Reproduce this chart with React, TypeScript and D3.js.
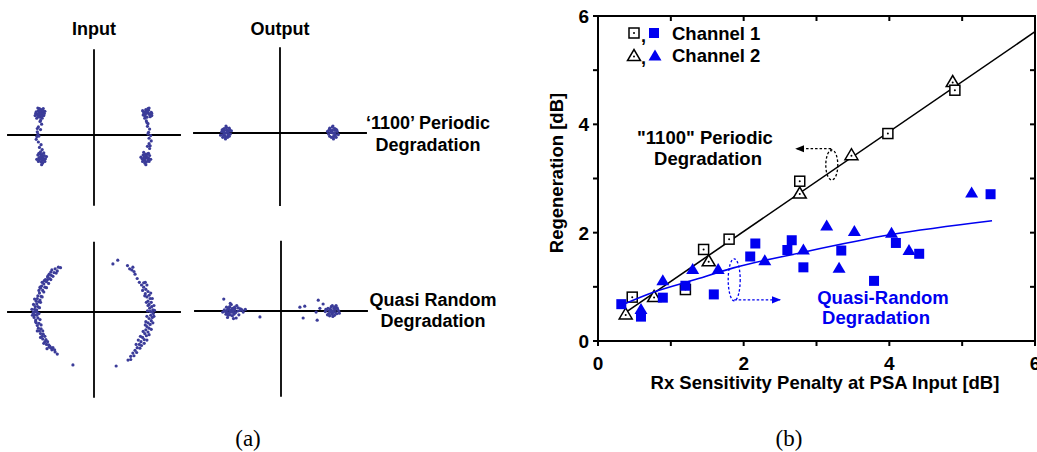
import React from "react";
import * as d3 from "d3";

// ---------- Panel (b) data ----------
const periodicCh1X = [0.47, 1.2, 1.45, 1.8, 2.77, 3.98, 4.9];
const periodicCh1Y = [0.81, 0.95, 1.69, 1.88, 2.95, 3.83, 4.63];
const periodicCh2X = [0.38, 0.77, 1.52, 2.77, 3.48, 4.87];
const periodicCh2Y = [0.51, 0.83, 1.49, 2.74, 3.45, 4.8];
const randomCh1X = [0.32, 0.59, 0.89, 1.2, 1.59, 2.09, 2.16, 2.6, 2.66, 2.82, 3.34, 3.79, 4.09, 4.41, 5.39];
const randomCh1Y = [0.68, 0.45, 0.8, 1.02, 0.86, 1.56, 1.8, 1.68, 1.86, 1.36, 1.67, 1.11, 1.81, 1.61, 2.71];
const randomCh2X = [0.59, 0.89, 1.3, 1.65, 2.29, 2.82, 3.14, 3.31, 3.52, 4.03, 4.27, 5.13];
const randomCh2Y = [0.6, 1.13, 1.34, 1.34, 1.5, 1.7, 2.14, 1.36, 2.04, 2.01, 1.69, 2.75];
const periodicFitX = [0.37, 6.0];
const periodicFitY = [0.52, 5.71];
const randomFitX = [0.32, 0.76, 1.3, 1.86, 2.82, 4.01, 5.41];
const randomFitY = [0.66, 0.9, 1.12, 1.35, 1.64, 1.96, 2.22];
const xTicks = [0, 1, 2, 3, 4, 5, 6];
const yTicks = [0, 1, 2, 3, 4, 5, 6];
const xTickLabels = ["0", "", "2", "", "4", "", "6"];
const yTickLabels = ["0", "", "2", "", "4", "", "6"];
const legendLabels = ["Channel 1", "Channel 2"];

// ---------- Panel (a) constellation data (I, Q) ----------
const periodicInputLeft: [number, number][] = [
  [-1.0, 0.4], [-0.95, 0.42], [-1.05, 0.38], [-0.98, 0.47], [-1.03, 0.45], [-0.93, 0.36], [-1.07, 0.43], [-1.0, 0.33],
  [-0.96, 0.31], [-1.04, 0.5], [-1.09, 0.36], [-0.91, 0.44], [-1.02, 0.41], [-0.97, 0.38], [-1.06, 0.31], [-0.94, 0.49],
  [-0.99, 0.44], [-1.01, 0.36], [-1.0, 0.45], [-0.96, 0.35], [-1.04, 0.34], [-1.08, 0.4], [-0.92, 0.4], [-1.01, 0.49],
  [-0.98, 0.4], [-1.03, 0.39], [-0.95, 0.45],
  [-1.0, 0.25], [-0.97, 0.2], [-1.03, 0.15], [-0.99, 0.1], [-1.05, 0.06], [-1.02, -0.02], [-1.07, -0.08], [-1.03, -0.13],
  [-0.98, -0.18], [-1.01, -0.23], [-0.96, -0.27], [-1.04, 0.02], [-1.06, -0.03], [-0.99, 0.27], [-1.05, 0.12],
  [-0.97, -0.4], [-0.92, -0.38], [-1.02, -0.42], [-0.95, -0.47], [-1.0, -0.35], [-0.9, -0.44], [-1.04, -0.37],
  [-0.98, -0.5], [-0.93, -0.33], [-1.06, -0.45], [-0.88, -0.4], [-1.01, -0.46], [-0.95, -0.52], [-0.99, -0.31],
  [-0.94, -0.42], [-0.97, -0.45], [-0.96, -0.36], [-1.0, -0.42], [-0.93, -0.45], [-0.98, -0.38], [-1.03, -0.49],
  [-0.91, -0.49], [-0.97, -0.55], [-1.02, -0.34],
];
const periodicInputRight: [number, number][] = [
  [0.98, 0.41], [0.93, 0.43], [1.03, 0.38], [0.96, 0.47], [1.01, 0.46], [0.91, 0.37], [1.06, 0.42], [0.98, 0.33],
  [0.94, 0.31], [1.02, 0.5], [1.07, 0.36], [0.9, 0.45], [1.0, 0.41], [0.95, 0.38], [0.97, 0.44], [0.99, 0.45],
  [0.94, 0.35], [1.04, 0.34], [1.07, 0.4], [0.92, 0.41], [1.0, 0.49], [0.97, 0.41], [1.02, 0.39],
  [0.97, 0.26], [1.0, 0.21], [0.99, 0.16], [1.03, 0.11], [1.01, 0.05], [1.05, -0.01], [1.02, -0.06], [1.06, -0.11],
  [1.02, -0.16], [0.99, -0.21], [1.03, -0.25], [1.0, 0.02], [1.04, -0.2], [0.98, 0.23],
  [0.96, -0.4], [0.91, -0.37], [1.01, -0.43], [0.94, -0.47], [0.99, -0.35], [0.89, -0.44], [1.03, -0.38],
  [0.97, -0.5], [0.92, -0.32], [1.05, -0.45], [0.87, -0.41], [1.0, -0.47], [0.94, -0.52], [0.96, -0.43],
  [0.95, -0.36], [0.99, -0.42], [0.92, -0.45], [0.97, -0.38], [1.02, -0.49], [0.9, -0.49], [0.96, -0.55],
  [1.01, -0.34], [0.93, -0.41],
];
const periodicOutput: [number, number][] = [
  [-1.0, 0.0], [-0.95, 0.04], [-1.05, -0.03], [-0.97, -0.08], [-1.03, 0.08], [-0.92, -0.02], [-1.08, 0.02], [-0.99, 0.1],
  [-1.01, -0.11], [-0.94, 0.09], [-1.06, -0.08], [-0.9, 0.04], [-1.1, -0.04], [-0.98, 0.05], [-1.02, -0.05], [-0.96, -0.04],
  [-1.04, 0.04], [-1.0, 0.13], [-0.99, 0.05], [-0.94, -0.06], [-1.05, 0.07], [-1.01, -0.07], [-0.96, 0.01], [-1.03, 0.0],
  [-1.07, 0.06], [-0.93, 0.06],
  [0.98, 0.0], [0.93, 0.05], [1.03, -0.03], [0.95, -0.08], [1.01, 0.08], [0.9, -0.02], [1.06, 0.03], [0.97, 0.11],
  [0.99, -0.11], [0.92, 0.09], [1.04, -0.08], [0.88, 0.03], [1.08, -0.03], [0.96, 0.04], [1.0, -0.05], [0.98, 0.13],
  [1.02, 0.05], [0.97, 0.05], [0.92, -0.06], [1.03, 0.07], [0.99, -0.07], [0.94, 0.01], [1.01, 0.0], [1.05, 0.06],
  [0.91, 0.06],
];
const randomInputLeft: [number, number][] = [
  [-0.72, 0.8], [-0.78, 0.78], [-0.68, 0.76], [-0.8, 0.74], [-0.74, 0.73], [-0.83, 0.7], [-0.79, 0.68], [-0.86, 0.65],
  [-0.82, 0.62], [-0.92, 0.58], [-0.88, 0.56], [-0.93, 0.52], [-0.97, 0.48], [-0.91, 0.46], [-0.99, 0.44], [-0.95, 0.4],
  [-1.02, 0.4], [-1.01, 0.35], [-1.04, 0.3], [-0.98, 0.29], [-1.05, 0.25], [-1.07, 0.2], [-1.02, 0.19], [-1.06, 0.15],
  [-1.09, 0.1], [-1.04, 0.1], [-1.1, 0.05], [-1.06, 0.04], [-1.12, 0.0], [-1.08, 0.01], [-1.05, -0.01], [-1.1, -0.05],
  [-1.06, -0.06], [-1.11, -0.1], [-1.04, -0.11], [-1.08, -0.15], [-1.07, -0.2], [-1.02, -0.21], [-1.05, -0.25],
  [-1.03, -0.3], [-0.98, -0.31], [-1.01, -0.35], [-0.99, -0.4], [-0.94, -0.41], [-0.96, -0.45], [-0.95, -0.5],
  [-0.89, -0.51], [-0.91, -0.55], [-0.88, -0.6], [-0.84, -0.61], [-0.83, -0.65], [-0.78, -0.7], [-0.72, -0.74],
  [-0.8, -0.66], [-0.68, -0.78], [-0.39, -0.98], [-0.86, 0.6], [-1.0, 0.22], [-1.13, -0.02],
  [-0.7, 0.72], [-0.76, 0.66], [-0.8, 0.6], [-0.84, 0.53], [-0.88, 0.45], [-0.93, 0.37], [-0.96, 0.28], [-0.99, 0.18],
  [-1.01, 0.08], [-1.02, -0.03], [-1.0, -0.14], [-0.98, -0.24], [-0.95, -0.35], [-0.91, -0.45], [-0.86, -0.55],
  [-0.82, -0.63], [-0.76, -0.66], [-0.73, -0.7], [-0.62, 0.82], [-0.66, 0.83], [-0.85, 0.67], [-0.9, 0.6],
  [-1.15, 0.05], [-1.14, -0.06], [-1.12, 0.14], [-1.1, 0.24], [-1.08, -0.18], [-1.0, 0.46], [-0.96, 0.55],
  [-1.05, -0.35], [-0.99, -0.47], [-0.93, -0.58], [-0.87, -0.68],
];
const randomInputRight: [number, number][] = [
  [0.72, 0.83], [0.66, 0.8], [0.35, 0.89], [0.44, 0.96], [0.76, 0.7], [0.8, 0.62], [0.84, 0.55], [0.88, 0.5],
  [0.92, 0.46], [0.96, 0.42], [0.9, 0.4], [1.0, 0.38], [0.95, 0.34], [1.02, 0.31], [0.98, 0.28], [1.04, 0.25],
  [1.0, 0.2], [1.06, 0.18], [1.02, 0.14], [1.07, 0.1], [1.03, 0.07], [1.09, 0.04], [1.04, 0.01], [1.07, 0.0],
  [1.1, -0.03], [1.05, -0.06], [1.08, -0.1], [1.02, -0.12], [1.06, -0.16], [1.0, -0.2], [1.04, -0.23], [0.98, -0.27],
  [1.02, -0.3], [0.96, -0.33], [1.0, -0.37], [0.94, -0.4], [0.97, -0.44], [0.9, -0.47], [0.93, -0.51], [0.87, -0.55],
  [0.84, -0.6], [0.88, -0.62], [0.8, -0.66], [0.76, -0.71], [0.72, -0.76], [0.68, -0.82], [0.63, -0.89], [0.41, -1.0],
  [0.92, 0.54], [1.0, 0.12], [0.96, -0.18],
  [0.98, 0.5], [0.95, 0.55], [1.05, 0.35], [1.08, 0.25], [1.11, 0.12], [1.12, 0.03], [1.11, -0.08], [1.09, -0.2],
  [1.06, -0.32], [1.02, -0.42], [0.98, -0.52], [0.93, -0.58], [0.85, -0.67], [0.79, -0.75], [0.74, -0.81],
  [0.68, -0.88], [0.62, 0.86], [0.7, 0.78], [0.74, 0.75], [0.94, 0.3], [0.97, 0.18], [0.99, 0.02], [0.98, -0.08],
  [0.95, -0.24], [0.91, -0.36], [0.86, -0.45], [0.82, -0.52], [0.78, -0.6],
];
const randomOutput: [number, number][] = [
  [-0.93, 0.0], [-0.98, 0.04], [-0.88, -0.03], [-1.02, -0.06], [-0.85, 0.05], [-0.95, 0.08], [-0.9, -0.09],
  [-1.05, 0.02], [-0.8, 0.0], [-0.75, 0.04], [-0.7, -0.02], [-0.66, 0.03], [-0.99, -0.12], [-0.83, -0.13],
  [-0.92, 0.12], [-1.06, 0.22], [-0.39, -0.11], [-1.0, 0.01], [-0.96, -0.03], [-0.86, 0.02], [-0.78, -0.07],
  [-0.91, 0.03], [-1.08, -0.02], [-0.82, 0.1],
  [-0.95, 0.02], [-0.9, 0.05], [-0.87, -0.06], [-1.0, -0.04], [-0.94, -0.07], [-0.97, 0.06], [-1.03, -0.01],
  [-0.89, 0.0], [-0.84, -0.03], [-0.92, -0.02], [-0.98, -0.08], [-0.86, 0.07], [-1.01, 0.07], [-0.76, 0.01],
  [-0.72, 0.02], [-0.94, 0.14], [-0.88, -0.14], [-0.79, 0.06],
  [0.96, 0.0], [0.91, 0.04], [1.01, -0.03], [0.88, -0.05], [1.04, 0.06], [0.93, 0.08], [0.99, -0.08], [0.85, 0.02],
  [1.07, 0.0], [0.95, -0.04], [1.02, 0.1], [0.82, -0.01], [0.35, 0.07], [0.44, 0.09], [0.41, -0.13], [0.69, 0.2],
  [0.67, -0.17], [0.65, -0.02], [0.78, 0.13], [0.72, 0.05], [0.9, -0.09], [0.98, 0.05],
  [0.93, 0.01], [0.97, -0.02], [1.0, 0.03], [0.9, 0.0], [0.94, -0.06], [1.03, -0.05], [1.05, 0.03], [0.87, 0.05],
  [0.92, -0.02], [0.99, 0.07], [0.86, -0.07], [1.08, -0.04], [0.95, 0.1], [0.83, 0.03], [0.96, -0.1],
];

const FONT = "'Liberation Sans', Arial, sans-serif";
const SERIF = "'Liberation Serif', 'DejaVu Serif', serif";
const DOT = "#3b3c99";
const BLUE = "#0000f0";

function Constellation({ cx, cy, unit, pts, up, down }: { cx: number; cy: number; unit: number; pts: [number, number][]; up: number; down: number }) {
  const x = d3.scaleLinear().domain([-1, 1]).range([cx - unit, cx + unit]);
  const y = d3.scaleLinear().domain([-1, 1]).range([cy + unit, cy - unit]);
  return (
    <g>
      <line x1={x(-1.61)} x2={x(1.61)} y1={y(0)} y2={y(0)} stroke="#000" strokeWidth={1.8} />
      <line x1={x(0)} x2={x(0)} y1={y(up)} y2={y(-down)} stroke="#000" strokeWidth={1.8} />
      {pts.map((p, i) => (
        <circle key={i} cx={x(p[0])} cy={y(p[1])} r={1.6} fill={DOT} />
      ))}
    </g>
  );
}

function Square({ x, y, fill }: { x: number; y: number; fill?: boolean }) {
  const s = 10;
  return fill ? (
    <rect x={x - s / 2} y={y - s / 2} width={s} height={s} fill={BLUE} />
  ) : (
    <g>
      <rect x={x - s / 2} y={y - s / 2} width={s} height={s} fill="#fff" stroke="#000" strokeWidth={1.5} />
      <circle cx={x} cy={y} r={1} fill="#000" />
    </g>
  );
}

function Tri({ x, y, fill }: { x: number; y: number; fill?: boolean }) {
  const w = 13, h = 11;
  const pts = `${x - w / 2},${y + h / 2} ${x + w / 2},${y + h / 2} ${x},${y - h / 2}`;
  return fill ? (
    <polygon points={pts} fill={BLUE} />
  ) : (
    <g>
      <polygon points={pts} fill="#fff" stroke="#000" strokeWidth={1.5} />
      <circle cx={x} cy={y + 1.5} r={1} fill="#000" />
    </g>
  );
}

export default function App() {
  const x = d3.scaleLinear().domain([0, 6]).range([598, 1035]);
  const y = d3.scaleLinear().domain([0, 6]).range([341, 16]);
  const fitLine = d3.line<number>().x((_, i) => x(periodicFitX[i])).y((d) => y(d));
  const curve = d3
    .line<number>()
    .x((_, i) => x(randomFitX[i]))
    .y((d) => y(d))
    .curve(d3.curveMonotoneX);

  return (
    <svg width={1037} height={452} style={{ position: "absolute", left: 0, top: 0 }} fontFamily={FONT}>
      <defs>
        <marker id="arrK" viewBox="0 0 10 10" refX="9" refY="5" markerWidth="7" markerHeight="7" orient="auto">
          <path d="M0,1 L10,5 L0,9 Z" fill="#000" />
        </marker>
        <marker id="arrB" viewBox="0 0 10 10" refX="9" refY="5" markerWidth="7" markerHeight="7" orient="auto">
          <path d="M0,1 L10,5 L0,9 Z" fill={BLUE} />
        </marker>
      </defs>
      <rect width={1037} height={452} fill="#fff" />

      {/* ---------- Panel (a) ---------- */}
      <text x={94} y={35} textAnchor="middle" fontWeight="bold" fontSize={18}>Input</text>
      <text x={280} y={35} textAnchor="middle" fontWeight="bold" fontSize={18}>Output</text>
      <Constellation cx={94} cy={135} unit={54} pts={periodicInputLeft.concat(periodicInputRight)} up={1.59} down={1.31} />
      <Constellation cx={280} cy={133} unit={54} pts={periodicOutput} up={1.59} down={1.35} />
      <Constellation cx={94} cy={312} unit={54} pts={randomInputLeft.concat(randomInputRight)} up={1.3} down={1.59} />
      <Constellation cx={281} cy={311} unit={54} pts={randomOutput} up={1.3} down={1.59} />
      <g fontWeight="bold" fontSize={18} textAnchor="middle">
        <text x={428} y={129}>‘1100’ Periodic</text>
        <text x={428} y={151}>Degradation</text>
        <text x={433} y={306}>Quasi Random</text>
        <text x={433} y={327}>Degradation</text>
      </g>
      <text x={248} y={446} textAnchor="middle" fontSize={23} fontFamily={SERIF}>(a)</text>

      {/* ---------- Panel (b) ---------- */}
      <rect x={x(0)} y={y(6)} width={x(6) - x(0)} height={y(0) - y(6)} fill="none" stroke="#000" strokeWidth={2} />
      {xTicks.map((t, i) => (
        <g key={"xt" + i}>
          <line x1={x(t)} x2={x(t)} y1={y(0)} y2={y(0) + 5} stroke="#000" strokeWidth={2} />
          <line x1={x(t)} x2={x(t)} y1={y(6)} y2={y(6) + 5} stroke="#000" strokeWidth={2} />
          <text x={x(t)} y={y(0) + 29} textAnchor="middle" fontWeight="bold" fontSize={19}>{xTickLabels[i]}</text>
        </g>
      ))}
      {yTicks.map((t, i) => (
        <g key={"yt" + i}>
          <line x1={x(0) - 5} x2={x(0)} y1={y(t)} y2={y(t)} stroke="#000" strokeWidth={2} />
          <line x1={x(6) - 5} x2={x(6)} y1={y(t)} y2={y(t)} stroke="#000" strokeWidth={2} />
          <text x={x(0) - 9} y={y(t) + 7} textAnchor="end" fontWeight="bold" fontSize={19}>{yTickLabels[i]}</text>
        </g>
      ))}
      <text x={825} y={389} textAnchor="middle" fontWeight="bold" fontSize={18.5}>Rx Sensitivity Penalty at PSA Input [dB]</text>
      <text transform="translate(563,173) rotate(-90)" textAnchor="middle" fontWeight="bold" fontSize={18.5}>Regeneration [dB]</text>

      {/* fit lines */}
      <path d={fitLine(periodicFitY) || ""} fill="none" stroke="#000" strokeWidth={1.6} />

      {/* periodic markers */}
      {periodicCh2X.map((v, i) => <Tri key={"pt" + i} x={x(v)} y={y(periodicCh2Y[i])} />)}
      {periodicCh1X.map((v, i) => <Square key={"ps" + i} x={x(v)} y={y(periodicCh1Y[i])} />)}
      {/* random markers */}
      {randomCh1X.map((v, i) => <Square key={"rs" + i} x={x(v)} y={y(randomCh1Y[i])} fill />)}
      {randomCh2X.map((v, i) => <Tri key={"rt" + i} x={x(v)} y={y(randomCh2Y[i])} fill />)}
      <path d={curve(randomFitY) || ""} fill="none" stroke={BLUE} strokeWidth={1.6} />

      {/* legend */}
      <Square x={634} y={33} />
      <text x={641} y={42} fontWeight="bold" fontSize={18}>,</text>
      <Square x={654} y={33} fill />
      <text x={672} y={40} fontWeight="bold" fontSize={18.5}>{legendLabels[0]}</text>
      <Tri x={634} y={55} />
      <text x={641} y={64} fontWeight="bold" fontSize={18}>,</text>
      <Tri x={655} y={55} fill />
      <text x={672} y={62} fontWeight="bold" fontSize={18.5}>{legendLabels[1]}</text>

      {/* annotations */}
      <g fontWeight="bold" fontSize={18.5} textAnchor="middle">
        <text x={705} y={144}>"1100" Periodic</text>
        <text x={708} y={165}>Degradation</text>
      </g>
      <ellipse cx={x(3.21)} cy={y(3.25)} rx={6} ry={15} fill="none" stroke="#000" strokeWidth={1.3} strokeDasharray="2.5,2" />
      <line x1={x(3.2)} x2={x(2.72)} y1={y(3.55)} y2={y(3.55)} stroke="#000" strokeWidth={1.3} strokeDasharray="2.5,2" markerEnd="url(#arrK)" />
      <line x1={x(3.2)} x2={x(3.2)} y1={y(3.55)} y2={y(3.5)} stroke="#000" strokeWidth={1.3} />

      <ellipse cx={x(1.87)} cy={y(1.13)} rx={6} ry={21} fill="none" stroke={BLUE} strokeWidth={1.3} strokeDasharray="2.5,2" />
      <line x1={x(1.87)} x2={x(2.5)} y1={y(0.76)} y2={y(0.76)} stroke={BLUE} strokeWidth={1.3} strokeDasharray="2.5,2" markerEnd="url(#arrB)" />
      <g fontWeight="bold" fontSize={18.5} textAnchor="middle" fill={BLUE}>
        <text x={883} y={304}>Quasi-Random</text>
        <text x={876} y={324}>Degradation</text>
      </g>

      <text x={789} y={446} textAnchor="middle" fontSize={23} fontFamily={SERIF}>(b)</text>
    </svg>
  );
}
